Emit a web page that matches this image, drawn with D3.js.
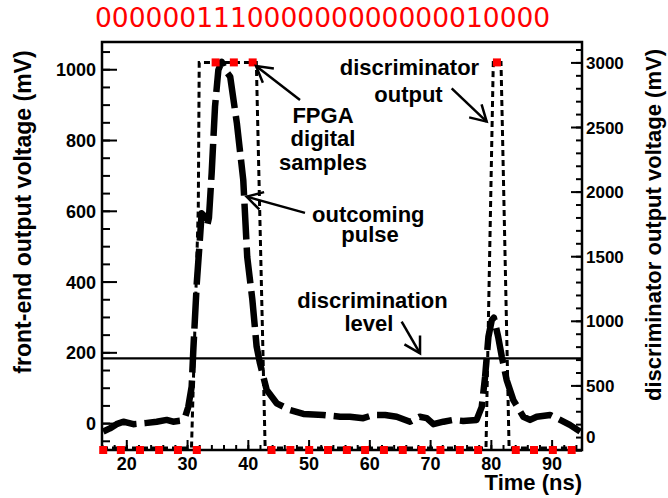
<!DOCTYPE html>
<html><head><meta charset="utf-8">
<script src="https://cdn.jsdelivr.net/npm/d3@7"></script>
<style>body{margin:0;background:#fff}</style>
</head><body><svg id="c" width="668" height="498"></svg>
<script>
// ---------------- data ----------------
const titleBits = "000000111000000000000010000";

const pulseTimeNs = [16.2,17.3,18.4,19.5,21.15,23.1,25.0,26.65,27.7,29.1,29.7,30.2,30.76,31.03,31.6,32.1,32.4,32.7,33.3,33.6,34.05,34.6,35.15,35.7,36.25,37.1,38.2,39.25,39.9,40.75,41.45,42.0,43.1,44.75,46.95,49.15,52.4,55.2,56.8,59.0,60.65,62.6,64.5,66.7,68.3,69.45,70.55,72.2,73.8,75.45,77.65,78.5,79.05,79.6,80.15,80.5,81.2,81.8,82.6,83.7,85.35,86.45,87.55,89.75,91.4,93.0,94.7];
const pulseMv = [-24,-15,-3,4,-3,0,4,9,4,7,18,46,103,207,396,517,593,588,557,580,707,894,998,1021,998,979,847,687,470,348,216,169,94,56,37,26,23,18,18,14,23,23,18,4,18,14,-3,4,9,6,9,46,131,244,291,298,244,188,122,65,18,9,18,23,9,-5,-24];

const discTimeNs = [16, 30.73, 31.85, 32.0, 41.4, 42.85, 79.2, 80.4, 81.67, 83.0, 95];
const discMv     = [15, 15, 1880, 3000, 3000, 15, 15, 3000, 3000, 15, 15];

const sampleTimeNs = [16.2,19.1,22.25,25.4,28.5,31.6,34.7,37.7,40.8,43.9,47.0,50.1,53.2,56.3,59.3,62.4,65.5,68.6,71.7,74.9,77.9,81.0,84.1,87.1,90.2,93.3];
const sampleBits   = [0,0,0,0,0,0,1,1,1,0,0,0,0,0,0,0,0,0,0,0,0,1,0,0,0,0];
const sampleHighMv = 3000;

const discriminationLevelMv = 183;

const xTicks = [20,30,40,50,60,70,80,90];
const leftTicks = [0,200,400,600,800,1000];
const rightTicks = [0,500,1000,1500,2000,2500,3000];

const annotationText = ["FPGA","digital","samples","outcoming","pulse","discriminator","output","discrimination","level"];
const annotationT    = [52.37,52.37,52.37,59.83,60.11,66.61,66.44,60.52,59.94];
const annotationMv   = [848,783,715,569,513,984,908,325,260];

const arrowFromT  = [48.59, 49.41, 73.55, 65.32];
const arrowFromMv = [913, 594, 946, 287];
const arrowToT    = [41.35, 39.81, 79.31, 68.34];
const arrowToMv   = [1009, 640, 852, 197];

// ---------------- layout ----------------
const L = 102, R = 582, T = 42, B = 450;
const svg = d3.select("#c");
const FONT = "'Liberation Sans', Arial, Helvetica, sans-serif";
const fmt = d3.format("d");

const x = d3.scaleLinear().domain([16, 95]).range([L, R]);
const yL = d3.scaleLinear().domain([-76, 1077]).range([B, T]);
const yR = d3.scaleLinear().domain([0, 3158]).range([B, T]);

svg.append("defs").append("clipPath").attr("id","pc")
  .append("rect").attr("x",L).attr("y",T-6).attr("width",R-L).attr("height",B-T+12);

// discrimination level
svg.append("line")
  .attr("x1", x(16)).attr("x2", x(95))
  .attr("y1", yL(discriminationLevelMv)).attr("y2", yL(discriminationLevelMv))
  .attr("stroke","#000").attr("stroke-width",2.2);

// discriminator output (dotted)
svg.append("path")
  .datum(discTimeNs.map((t,i)=>[t, discMv[i]]))
  .attr("clip-path","url(#pc)")
  .attr("d", d3.line().x(d=>x(d[0])).y(d=>yR(d[1])))
  .attr("fill","none").attr("stroke","#000").attr("stroke-width",3)
  .attr("stroke-dasharray","6,4");

// outcoming pulse (long dashes)
svg.append("path")
  .datum(pulseTimeNs.map((t,i)=>[t, pulseMv[i]]))
  .attr("clip-path","url(#pc)")
  .attr("d", d3.line().x(d=>x(d[0])).y(d=>yL(d[1])))
  .attr("fill","none").attr("stroke","#000").attr("stroke-width",6.5)
  .attr("stroke-dasharray","36,8").attr("stroke-linejoin","round");

// axes
function styleAxis(g, size){
  g.select(".domain").remove();
  g.selectAll("line").attr("stroke","#000").attr("stroke-width",2);
  g.selectAll("text").attr("font-family",FONT).attr("font-weight","bold")
    .attr("font-size",size).attr("fill","#000");
  g.attr("font-size",null).attr("font-family",null);
}
// left
const gLmin = svg.append("g").attr("transform",`translate(${L},0)`)
  .call(d3.axisLeft(yL).tickValues(d3.range(-50, 1077, 50)).tickSizeInner(-8).tickSizeOuter(0).tickFormat(""));
styleAxis(gLmin, 18);
const gL = svg.append("g").attr("transform",`translate(${L},0)`)
  .call(d3.axisLeft(yL).tickValues(leftTicks).tickSizeInner(-15).tickSizeOuter(0).tickPadding(6).tickFormat(fmt));
styleAxis(gL, 18);
gL.selectAll("text").attr("dy","0.36em");
// right
const gRmin = svg.append("g").attr("transform",`translate(${R},0)`)
  .call(d3.axisRight(yR).tickValues(d3.range(0, 3158, 100)).tickSizeInner(-6).tickSizeOuter(0).tickFormat(""));
styleAxis(gRmin, 17);
const gR = svg.append("g").attr("transform",`translate(${R},0)`)
  .call(d3.axisRight(yR).tickValues(rightTicks).tickSizeInner(-11).tickSizeOuter(0).tickPadding(4).tickFormat(fmt));
styleAxis(gR, 17);
gR.selectAll("text").attr("dy","0.36em").filter(d=>d===0).attr("dy","-0.45em");
// bottom
const gBmin = svg.append("g").attr("transform",`translate(0,${B})`)
  .call(d3.axisBottom(x).tickValues(d3.range(16, 95.1, 2)).tickSizeInner(-5).tickSizeOuter(0).tickFormat(""));
styleAxis(gBmin, 18);
const gB = svg.append("g").attr("transform",`translate(0,${B})`)
  .call(d3.axisBottom(x).tickValues(xTicks).tickSizeInner(-10).tickSizeOuter(0).tickPadding(7).tickFormat(fmt));
styleAxis(gB, 18);

// frame
svg.append("rect").attr("x",L).attr("y",T).attr("width",R-L).attr("height",B-T)
  .attr("fill","none").attr("stroke","#000").attr("stroke-width",2.5);

// FPGA samples (red squares)
svg.append("g").selectAll("rect").data(sampleTimeNs).join("rect")
  .attr("x", d=>x(d)-4)
  .attr("y", (d,i)=>yR(sampleBits[i]*sampleHighMv)-4)
  .attr("width",8).attr("height",8).attr("fill","#ff0000");

// title
svg.append("text").attr("x",95).attr("y",27).attr("text-anchor","start")
  .attr("font-family","'DejaVu Sans', sans-serif").attr("font-size",26.5).attr("fill","#ff0000")
  .text(titleBits);

// axis titles
svg.append("text").attr("transform","translate(31,212) rotate(-90)").attr("text-anchor","middle")
  .attr("font-family",FONT).attr("font-weight","bold").attr("font-size",23)
  .text("front-end output voltage (mV)");
svg.append("text").attr("transform","translate(661,225) rotate(-90)").attr("text-anchor","middle")
  .attr("font-family",FONT).attr("font-weight","bold").attr("font-size",22)
  .text("discriminator output voltage (mV)");
svg.append("text").attr("x",R).attr("y",490).attr("text-anchor","end")
  .attr("font-family",FONT).attr("font-weight","bold").attr("font-size",22)
  .text("Time (ns)");

// annotations
svg.append("g").selectAll("text").data(annotationText).join("text")
  .attr("x",(d,i)=>x(annotationT[i])).attr("y",(d,i)=>yL(annotationMv[i]))
  .attr("text-anchor","middle").attr("font-family",FONT).attr("font-weight","bold")
  .attr("font-size",22).text(d=>d);

// arrows
const ga = svg.append("g").attr("stroke","#000").attr("stroke-width",2.5).attr("fill","none");
arrowFromT.forEach((t,i)=>{
  const x1 = x(t), y1 = yL(arrowFromMv[i]), x2 = x(arrowToT[i]), y2 = yL(arrowToMv[i]);
  const a = Math.atan2(y1-y2, x1-x2), len = 18, da = Math.PI/6;
  ga.append("line").attr("x1",x1).attr("y1",y1).attr("x2",x2).attr("y2",y2);
  ga.append("path").attr("d",
    `M${x2+len*Math.cos(a+da)},${y2+len*Math.sin(a+da)}L${x2},${y2}L${x2+len*Math.cos(a-da)},${y2+len*Math.sin(a-da)}`);
});
</script></body></html>
